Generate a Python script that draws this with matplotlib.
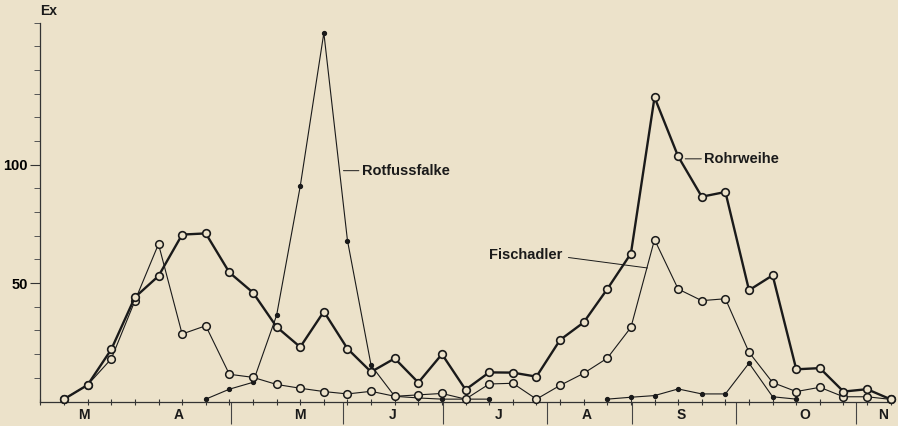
import numpy as np
import matplotlib.pyplot as plt
from matplotlib.ticker import FixedLocator, NullFormatter

nan = np.nan

# pentad-like periods, index 1..36 (March to November)
periods = np.arange(1, 37)

rohrweihe = [1, 7, 22, 44, 53, 70.5, 71, 54.5, 46, 31.5,
             23, 38, 22.3, 12.5, 18.2, 8, 20, 5, 12.3, 12.2,
             10.5, 26, 33.4, 47.5, 62.5, 128.5, 103.5, 86.5, 88.5, 47,
             53.3, 13.6, 14.1, 4.2, 5.2, 0.9]

fischadler = [1, 7, 18, 42.5, 66.5, 28.5, 32, 11.5, 10.2, 7.2,
              5.6, 4.2, 3.2, 4.3, 2.2, 2.8, 3.4, 1, 7.4, 7.7,
              1, 6.8, 11.9, 18.3, 31.3, 68.4, 47.5, 42.6, 43.4, 20.8,
              8, 4.2, 6, 2, 2, 0.9]

rotfussfalke = [nan, nan, nan, nan, nan, nan, 1, 5.2, 8.1, 36.4,
                90.9, 155.7, 68, 15.3, 2.2, 1.5, 1, 1, 1, nan,
                nan, nan, nan, 1, 1.8, 2.5, 5.3, 3.2, 3.2, 16.2,
                2, 1, nan, nan, nan, nan]

month_labels = ["M", "A", "M", "J", "J", "A", "S", "O", "N"]
month_label_pos = [1.85, 5.87, 11.0, 14.93, 19.38, 23.14, 27.12, 32.37, 35.67]
month_bounds = [4.0, 8.07, 12.81, 17.06, 21.43, 25.03, 29.47, 34.55]

bg = "#ece2ca"
ink = "#1a1a1a"
plt.rcParams["font.family"] = ["Liberation Sans", "DejaVu Sans"]

fig = plt.figure(figsize=(8.98, 4.26), dpi=100, facecolor=bg)
ax = fig.add_axes([40.4 / 898, 24.5 / 426, 852.7 / 898, 378.8 / 426])
ax.set_facecolor(bg)

ax.plot(periods, rotfussfalke, color=ink, lw=0.8, marker="o", ms=2.8,
        mfc=ink, mec=ink, zorder=2, clip_on=False)
ax.plot(periods, fischadler, color=ink, lw=0.8, marker="o", ms=5.5,
        mfc=bg, mec=ink, mew=1.1, zorder=3, clip_on=False)
ax.plot(periods, rohrweihe, color=ink, lw=1.7, marker="o", ms=5.5,
        mfc=bg, mec=ink, mew=1.2, zorder=4, clip_on=False)

ax.set_xlim(0, 36.1)
ax.set_ylim(0, 160)

for s in ["top", "right"]:
    ax.spines[s].set_visible(False)
for s in ["left", "bottom"]:
    ax.spines[s].set_color("#333333")
    ax.spines[s].set_linewidth(0.9)

# y axis: labels at 50 and 100, small ticks every 10
ax.yaxis.set_major_locator(FixedLocator([50, 100]))
ax.yaxis.set_minor_locator(FixedLocator(np.arange(10, 161, 10)))
ax.tick_params(axis="y", which="major", length=7, width=0.8, color="#333333",
               labelsize=10.5, pad=2)
ax.tick_params(axis="y", which="minor", length=4.5, width=0.7, color="#555555")
for t in ax.get_yticklabels():
    t.set_fontweight("bold")

# x axis: tick per period, long ticks at month boundaries
ax.xaxis.set_major_locator(FixedLocator(np.arange(0, 37)))
ax.xaxis.set_major_formatter(NullFormatter())
ax.xaxis.set_minor_locator(FixedLocator(month_bounds))
ax.tick_params(axis="x", which="major", length=5, width=0.8, color="#333333",
               direction="inout")
ax.tick_params(axis="x", which="minor", length=16, width=0.8, color="#444444",
               direction="out")

for lab, pos in zip(month_labels, month_label_pos):
    ax.annotate(lab, xy=(pos, 0), xycoords="data", xytext=(0, -9.5),
                textcoords="offset points", ha="center", va="center",
                fontsize=10, fontweight="bold", color=ink, annotation_clip=False)

ax.text(0, 1.012, "Ex", transform=ax.transAxes, ha="left", va="bottom",
        fontsize=10, fontweight="bold", color=ink)

# series labels with leader lines
ax.annotate("Rotfussfalke", xy=(12.83, 97.5), xytext=(13.6, 97.5),
            ha="left", va="center", fontsize=10.5, fontweight="bold", color=ink,
            arrowprops=dict(arrowstyle="-", color=ink, lw=0.7, shrinkA=0, shrinkB=0))
ax.annotate("Rohrweihe", xy=(27.3, 102.5), xytext=(28.1, 102.5),
            ha="left", va="center", fontsize=10.5, fontweight="bold", color=ink,
            arrowprops=dict(arrowstyle="-", color=ink, lw=0.7, shrinkA=0, shrinkB=0))
ax.annotate("Fischadler", xy=(25.7, 56.4), xytext=(19.0, 62),
            ha="left", va="center", fontsize=10.5, fontweight="bold", color=ink,
            arrowprops=dict(arrowstyle="-", color=ink, lw=0.7, shrinkA=0, shrinkB=0,
                            relpos=(1.08, 0.3)))

fig.savefig("out.png", dpi=100, facecolor=bg)
